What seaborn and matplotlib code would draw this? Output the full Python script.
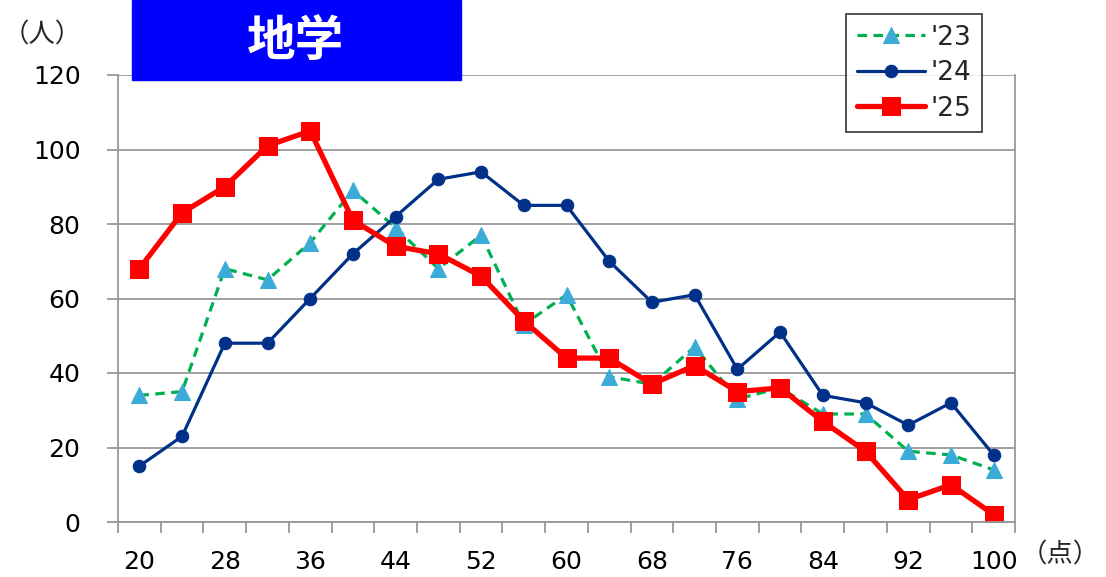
import numpy as np
import pandas as pd
import seaborn as sns
import matplotlib.pyplot as plt
from matplotlib.patches import Rectangle

# 得点区分（4点刻み）と人数
scores = [str(s) for s in range(20, 101, 4)]
y23 = [34, 35, 68, 65, 75, 89, 79, 68, 77, 53, 61, 39, 37, 47, 33, 36, 29, 29, 19, 18, 14]
y24 = [15, 23, 48, 48, 60, 72, 82, 92, 94, 85, 85, 70, 59, 61, 41, 51, 34, 32, 26, 32, 18]
y25 = [68, 83, 90, 101, 105, 81, 74, 72, 66, 54, 44, 44, 37, 42, 35, 36, 27, 19, 6, 10, 2]
yticks = [0, 20, 40, 60, 80, 100, 120]

sns.set_theme(style="white")
plt.rcParams['font.family'] = ['DejaVu Sans', 'Noto Sans CJK JP']

fig = plt.figure(figsize=(11.06, 5.77), dpi=100)
ax = fig.add_axes([118/1106, 55/577, 897/1106, 447/577])

df = pd.DataFrame({"score": scores, "'23": y23, "'24": y24, "'25": y25})

sns.lineplot(data=df, x="score", y="'23", ax=ax, color="#00B050", lw=2.3,
             linestyle=(0, (3, 2)), marker="^", markersize=11,
             markerfacecolor="#3BACD8", markeredgecolor="#3BACD8", label="'23", sort=False)
sns.lineplot(data=df, x="score", y="'24", ax=ax, color="#003087", lw=2.3,
             marker="o", markersize=9, markerfacecolor="#003087",
             markeredgecolor="#003087", label="'24", sort=False)
sns.lineplot(data=df, x="score", y="'25", ax=ax, color="#FF0000", lw=3.8,
             marker="s", markersize=13, markerfacecolor="#FF0000",
             markeredgecolor="#FF0000", label="'25", sort=False)

n = len(scores)
ax.set_xlim(-0.5, n - 0.5)
ax.set_ylim(0, 120)
ax.set_yticks(yticks)
ax.set_xticks(np.arange(0, n, 2))
ax.set_xticklabels(scores[::2])
ax.set_xticks(np.arange(-0.5, n, 1), minor=True)
ax.set_xlabel("")
ax.set_ylabel("")

ax.grid(axis="y", color="#999999", lw=1.3)
ax.set_axisbelow(True)
for s in ["left", "right", "bottom", "top"]:
    ax.spines[s].set_color("#999999")
    ax.spines[s].set_linewidth(1.3)
ax.spines["top"].set_visible(False)

ax.tick_params(axis="x", which="major", length=0, pad=20, labelsize=18, colors="black")
ax.tick_params(axis="x", which="minor", bottom=True, length=8, width=1.3, color="#999999")
ax.tick_params(axis="y", left=True, length=8, width=1.3, color="#999999",
               pad=19, labelsize=18, labelcolor="black")

leg = ax.legend(loc="upper left", bbox_to_anchor=(846/1106, 1 - 14/577),
                bbox_transform=fig.transFigure, fontsize=19, frameon=True,
                fancybox=False, edgecolor="black", handlelength=2.6,
                handletextpad=0.2, borderpad=0.4, labelspacing=0.36,
                borderaxespad=0)
leg.get_frame().set_linewidth(1.2)

# タイトルボックス
fig.patches.append(Rectangle((132/1106, 1 - 80/577), 329/1106, 80/577,
                             transform=fig.transFigure, color="#0000FF", zorder=5))
fig.text(296/1106, 1 - 42/577, "地学", color="white", fontsize=35, fontweight="bold",
         ha="center", va="center", family=["Noto Sans CJK JP"], zorder=6)

fig.text(42/1106, 1 - 35/577, "（人）", fontsize=19, ha="center", va="center",
         family=["Noto Sans CJK JP"])
fig.text(1100/1106, 1 - 555/577, "（点）", fontsize=19, ha="right", va="center",
         family=["Noto Sans CJK JP"])

fig.savefig("out.png", dpi=100)
